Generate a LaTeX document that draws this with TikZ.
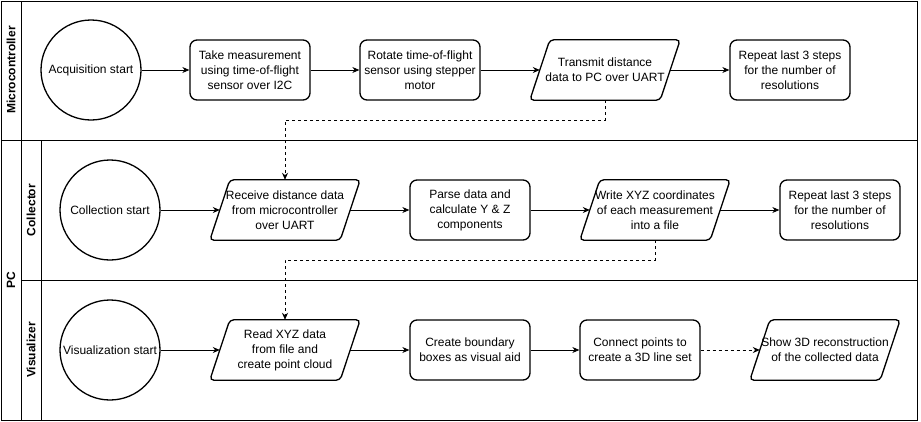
\documentclass[tikz,border=0pt]{standalone}
\usepackage{fontspec}
\setmainfont{Liberation Sans}
\usetikzlibrary{arrows.meta}
\begin{document}
\begin{tikzpicture}[x=1pt,y=-1pt, font=\fontsize{12}{15}\selectfont,
 pool/.style={draw=black, line width=1pt},
 lanelabel/.style={font=\fontsize{12}{14}\selectfont\bfseries, rotate=90},
 startnode/.style={circle, draw, line width=1.3pt, minimum size=100pt, inner sep=0pt, align=center},
 procnode/.style={rectangle, rounded corners=7pt, draw, line width=1.3pt, minimum width=120pt, minimum height=60pt, align=center, inner sep=2pt},
 ionode/.style={rectangle, minimum width=130pt, minimum height=60pt, align=center, inner sep=1pt},
 flow/.style={-{Stealth[length=7pt,width=6pt]}, line width=0.8pt},
 dflow/.style={flow, dash pattern=on 3pt off 3pt},
 iooutline/.style={draw, line width=1.3pt, rounded corners=4pt}
]
\useasboundingbox (0,0) rectangle (921,421);
% pools and lanes
\draw[pool] (1,1) rectangle (917,140);
\draw[pool] (21,1) -- (21,140);
\draw[pool] (1,140) rectangle (917,420);
\draw[pool] (21,140) -- (21,420);
\draw[pool] (21,280) -- (917,280);
\draw[pool] (41,140) -- (41,420);
\node[lanelabel] (lmc) at (11,70) {Microcontroller};
\node[lanelabel] (lpc) at (11,280) {PC};
\node[lanelabel] (lcol) at (31,210) {Collector};
\node[lanelabel] (lvis) at (31,350) {Visualizer};
% row 1
\node[startnode] (acq) at (91,70) {Acquisition start};
\node[procnode] (take) at (250,70) {Take measurement\\using time-of-flight\\sensor over I2C};
\node[procnode] (rot) at (420,70) {Rotate time-of-flight\\sensor using stepper\\motor};
\node[ionode] (tx) at (605,70) {Transmit distance\\data to PC over UART};
\node[procnode] (rep1) at (790,70) {Repeat last 3 steps\\for the number of\\resolutions};
% row 2
\node[startnode] (col) at (110,210) {Collection start};
\node[ionode] (rx) at (285,210) {Receive distance data\\from microcontroller\\over UART};
\node[procnode] (parse) at (470,210) {Parse data and\\calculate Y \& Z\\components};
\node[ionode] (wr) at (655,210) {Write XYZ coordinates\\of each measurement\\into a file};
\node[procnode] (rep2) at (840,210) {Repeat last 3 steps\\for the number of\\resolutions};
% row 3
\node[startnode] (vis) at (110,350) {Visualization start};
\node[ionode] (rd) at (285,350) {Read XYZ data\\from file and\\create point cloud};
\node[procnode] (box) at (470,350) {Create boundary\\boxes as visual aid};
\node[procnode] (con) at (640,350) {Connect points to\\create a 3D line set};
\node[ionode] (sh) at (825,350) {Show 3D reconstruction\\of the collected data};
% parallelogram outlines
\foreach \n in {tx,rx,wr,rd,sh}
  \draw[iooutline] ([xshift=-10pt]\n.south west) -- ([xshift=10pt]\n.north west) -- ([xshift=10pt]\n.north east) -- ([xshift=-10pt]\n.south east) -- cycle;
% connectors
\draw[flow] (acq.east) -- (take.west);
\draw[flow] (take.east) -- (rot.west);
\draw[flow] (rot.east) -- (tx.west);
\draw[flow] (tx.east) -- (rep1.west);
\draw[flow] (col.east) -- (rx.west);
\draw[flow] (rx.east) -- (parse.west);
\draw[flow] (parse.east) -- (wr.west);
\draw[flow] (wr.east) -- (rep2.west);
\draw[flow] (vis.east) -- (rd.west);
\draw[flow] (rd.east) -- (box.west);
\draw[flow] (box.east) -- (con.west);
\draw[dflow] (con.east) -- (sh.west);
\draw[dflow] (tx.south) -- ++(0,20) -| (rx.north);
\draw[dflow] (wr.south) -- ++(0,20) -| (rd.north);
\end{tikzpicture}
\end{document}
